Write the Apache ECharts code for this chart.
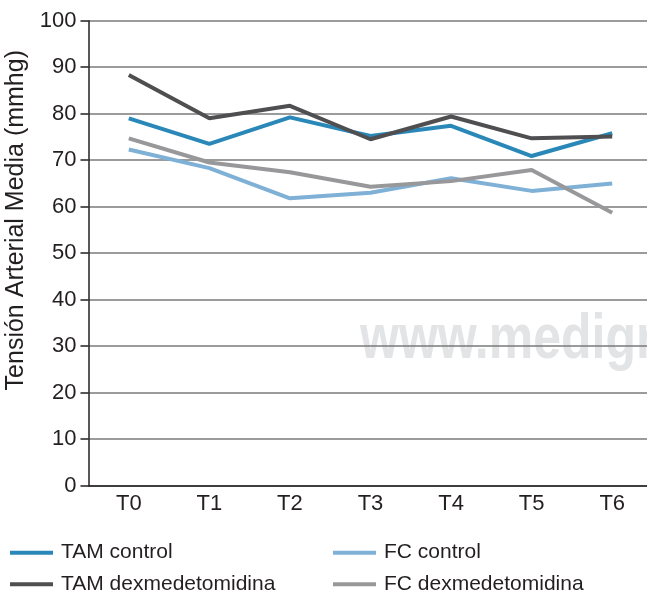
<!DOCTYPE html>
<html><head><meta charset="utf-8">
<script src="https://cdn.jsdelivr.net/npm/echarts@6/dist/echarts.min.js"></script>
<style>html,body{margin:0;padding:0;background:#fff}#c{width:647px;height:593px}</style>
</head><body><div id="c"></div>
<script>
const categories = ['T0','T1','T2','T3','T4','T5','T6'];
const tamControl = [79.0, 73.5, 79.2, 75.2, 77.4, 70.9, 75.8];
const tamDexmed  = [88.3, 79.0, 81.7, 74.5, 79.4, 74.7, 75.1];
const fcControl  = [72.3, 68.3, 61.8, 63.0, 66.1, 63.4, 65.0];
const fcDexmed   = [74.7, 69.5, 67.4, 64.3, 65.5, 67.9, 58.7];
const yTicks = [0,10,20,30,40,50,60,70,80,90,100];

const font = '"Liberation Sans", Arial, sans-serif';
const txt = '#231f20';
const chart = echarts.init(document.getElementById('c'), null, {renderer:'canvas'});
function line(name, data, color){
  return {name, type:'line', data, symbol:'none', lineStyle:{width:4, color}, itemStyle:{color}, z:3};
}
function leg(name, left, top){
  return {data:[name], orient:'horizontal', left, top, padding:0, itemWidth:43, itemHeight:4, icon:'rect',
    textStyle:{fontFamily:font, fontSize:21, color:txt, lineHeight:22, padding:[0,0,0,3]}};
}
chart.setOption({
  animation:false,
  backgroundColor:'#fff',
  graphic:[{type:'text', x:360, y:363, scaleY:1.26, z:-10, silent:true,
    style:{x:0, y:7, text:'www.medigraphic.com', verticalAlign:'bottom', font:'bold 50px "Liberation Sans", Arial, sans-serif', fill:'#e3e4e6'}}],
  grid:{left:88.5, top:20.7, width:564, bottom:107.3, containLabel:false, outerBoundsMode:'none'},
  legend:[
    leg('TAM control', 10, 541.7),
    leg('TAM dexmedetomidina', 10, 573.3),
    leg('FC control', 333, 541.7),
    leg('FC dexmedetomidina', 333, 573.3)
  ],
  xAxis:{type:'category', data:categories, boundaryGap:true,
    axisLine:{lineStyle:{color:txt, width:1.5}}, axisTick:{show:false},
    axisLabel:{fontFamily:font, fontSize:22, color:txt, margin:7}},
  yAxis:{type:'value', min:0, max:100, interval:10,
    name:'Tensión Arterial Media (mmhg)', nameLocation:'middle', nameGap:48,
    nameTextStyle:{fontFamily:font, fontSize:25, color:txt, padding:[0,0,0,66]},
    axisLine:{show:true, lineStyle:{color:txt, width:1.5}},
    axisTick:{show:true, inside:false, length:8, lineStyle:{color:txt, width:1.5}},
    axisLabel:{fontFamily:font, fontSize:22, color:txt, margin:12,
      formatter:v=> yTicks.includes(v) ? String(v) : ''},
    splitLine:{show:true, lineStyle:{color:'#7a7a7a', width:1.5}}},
  series:[
    line('TAM control', tamControl, '#2a88b9'),
    line('FC control', fcControl, '#7fb0d6'),
    line('TAM dexmedetomidina', tamDexmed, '#4f4f51'),
    line('FC dexmedetomidina', fcDexmed, '#98989a')
  ]
});
</script></body></html>
